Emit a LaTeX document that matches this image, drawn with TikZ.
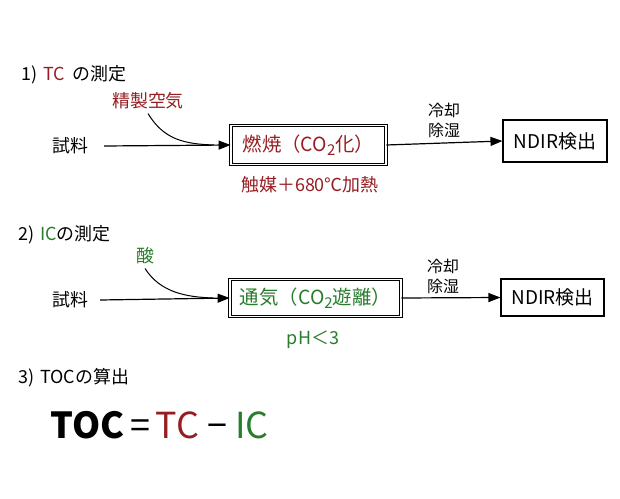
\documentclass[tikz,border=0pt]{standalone}
\usepackage{fontspec}
\setmainfont{Noto Sans CJK JP}
\usetikzlibrary{arrows.meta}
\definecolor{tcred}{RGB}{150,30,35}
\definecolor{icgreen}{RGB}{40,125,45}
\newcommand{\subtwo}{\raisebox{-0.4ex}{\fontsize{15}{15}\selectfont 2}}
\begin{document}
\begin{tikzpicture}[x=1bp, y=-1bp,
  lbl/.style={inner sep=0pt, font=\fontsize{18}{21}\selectfont},
  small/.style={lbl, align=center, font=\fontsize{16}{20}\selectfont},
  head/.style={lbl, anchor=west},
  proc/.style={rectangle, draw, double, double distance=1.6bp, line width=0.8bp, inner sep=0pt,
               font=\fontsize{19.5}{23}\selectfont},
  det/.style={rectangle, draw, line width=1.1bp, inner sep=0pt, font=\fontsize{19}{22}\selectfont},
  arr/.style={-{Triangle[length=12bp, width=9bp]}, line width=1.2bp},
  feed/.style={line width=1bp}
]
\useasboundingbox (0,0) rectangle (620,499);
% 1) TC
\node[head] (t1) at (21,75) {1)\hspace{6bp}{\color{tcred}TC}\hspace{4bp} の測定};
\node[lbl, text=tcred] (air) at (148,101) {精製空気};
\node[lbl] (s1) at (70,146) {試料};
\node[proc, text=tcred, minimum width=155bp, minimum height=39bp] (burn) at (308.5,145)
  {燃焼（CO\subtwo 化）};
\node[lbl, text=tcred] (cat) at (310,185) {触媒＋680℃加熱};
\node[small] (cool1) at (444,120) {冷却\\除湿};
\node[det, minimum width=104bp, minimum height=42bp] (nd1) at (555,141) {NDIR検出};
\coordinate (m1) at (214,145);
\draw[arr] ([xshift=16bp]s1.east) -- (burn.west);
\draw[feed] ([yshift=-4bp]air.south) .. controls (164,140) and (185,144) .. (m1);
\draw[arr] (burn.east) -- (nd1.west);
% 2) IC
\node[head] (t2) at (18,235) {2)\hspace{6bp}{\color{icgreen}IC}の測定};
\node[lbl, text=icgreen] (acid) at (145,256) {酸};
\node[lbl] (s2) at (70,300) {試料};
\node[proc, text=icgreen, minimum width=171bp, minimum height=37bp] (aer) at (315.5,298)
  {通気（CO\subtwo 遊離）};
\node[lbl, text=icgreen] (ph) at (313,340) {pH＜3};
\node[small] (cool2) at (443,276) {冷却\\除湿};
\node[det, minimum width=103bp, minimum height=37bp] (nd2) at (552.5,297.5) {NDIR検出};
\coordinate (m2) at (213,298);
\draw[arr] ([xshift=12bp]s2.east) -- (aer.west);
\draw[feed] ([yshift=-4bp]acid.south) .. controls (160,292) and (185,297) .. (m2);
\draw[arr] (aer.east) -- (nd2.west);
% 3) TOC
\node[head] (t3) at (18,378) {3)\hspace{6bp}TOCの算出};
\node[lbl, anchor=west, font=\fontsize{36}{40}\selectfont] (eq) at (50,425)
  {\textbf{TOC}\,=\,{\color{tcred}TC} − {\color{icgreen}IC}};
\end{tikzpicture}
\end{document}
